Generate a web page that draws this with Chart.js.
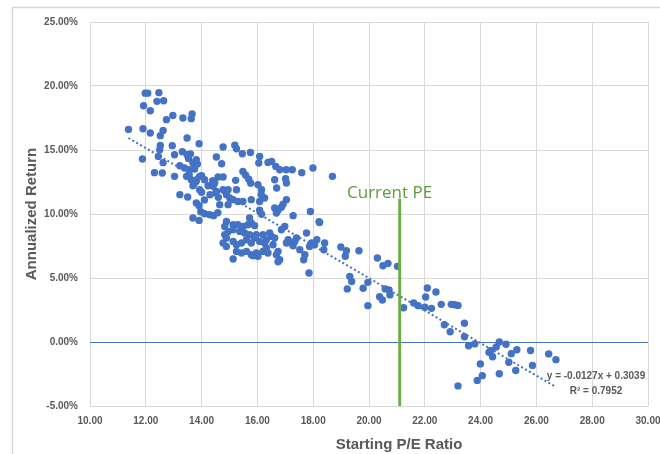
<!DOCTYPE html>
<html>
<head>
<meta charset="utf-8">
<script src="https://cdn.jsdelivr.net/npm/chart.js@4.4.1/dist/chart.umd.min.js"></script>
<style>
  html, body { margin: 0; padding: 0; background: #fff; }
  canvas { display: block; }
</style>
</head>
<body>
<canvas id="pe-chart" width="660" height="454"></canvas>
<script>
// starting P/E and the annualized return that followed (in %)
const peRatios = [
  11.38, 11.88, 11.90, 11.92, 11.98, 12.07, 12.47, 12.40, 12.64, 12.16,
  12.16, 12.31, 12.59, 12.52, 12.62, 12.74, 12.97, 12.45, 12.52, 12.50,
  12.62, 12.95, 13.03, 13.03, 13.22, 13.33, 13.48, 13.66, 13.63, 13.50,
  13.91, 13.31, 13.48, 13.53, 13.81, 13.69, 13.22, 13.39, 13.57, 13.75,
  14.53, 14.72, 13.46, 13.63, 13.69, 13.93, 14.11, 14.23, 14.59, 14.77,
  13.93, 14.41, 14.53, 14.77, 13.81, 13.91, 13.69, 13.97, 14.11, 14.29,
  14.43, 14.58, 13.91, 13.81, 14.51, 14.65, 14.77, 15.19, 15.25, 15.46,
  15.75, 16.08, 16.05, 16.38, 16.51, 16.66, 16.80, 17.03, 17.25, 17.59,
  17.99, 18.69, 16.62, 17.01, 15.22, 15.48, 15.58, 15.69, 15.76, 16.02,
  16.15, 16.14, 16.26, 16.69, 17.04, 17.04, 15.78, 15.25, 14.89, 15.01,
  15.13, 15.30, 15.48, 14.95, 14.95, 16.08, 16.62, 16.74, 16.86, 16.68,
  16.92, 17.28, 17.90, 18.21, 15.72, 16.08, 16.15, 14.47, 14.89, 15.13,
  15.30, 15.48, 15.66, 15.78, 14.83, 15.90, 14.83, 14.95, 14.89, 15.13,
  15.37, 15.54, 15.72, 15.96, 16.20, 16.44, 16.50, 14.77, 14.89, 15.13,
  15.25, 15.43, 15.61, 15.78, 15.90, 16.08, 16.26, 16.32, 16.62, 15.25,
  15.43, 15.61, 15.78, 15.96, 16.20, 16.38, 16.32, 15.13, 15.84, 16.02,
  16.56, 16.74, 16.68, 16.80, 16.74, 16.98, 16.86, 17.10, 17.04, 17.22,
  17.34, 17.40, 17.28, 17.52, 17.70, 17.66, 17.76, 17.87, 18.05, 18.13,
  17.94, 18.41, 18.38, 18.23, 17.85, 18.99, 19.19, 19.15, 19.64, 19.31,
  19.38, 19.22, 19.79, 19.96, 19.96, 20.30, 20.50, 20.68, 21.02, 20.38,
  20.48, 20.58, 20.72, 20.75, 21.24, 21.60, 21.76, 22.00, 22.24, 22.09,
  22.03, 22.40, 22.59, 22.95, 23.07, 23.19, 22.70, 22.91, 23.42, 23.42,
  23.57, 23.79, 23.19, 23.99, 24.06, 23.88, 24.30, 24.43, 24.36, 24.56,
  24.67, 24.91, 24.67, 25.10, 25.01, 25.30, 25.26, 25.79, 25.86, 26.44,
  26.70, 13.55, 13.75, 13.60, 13.85, 14.00, 14.00, 14.30, 14.60, 14.40,
  14.10
];
const annualReturns = [
  16.61, 14.30, 16.66, 18.46, 19.44, 19.44, 19.48, 18.80, 18.85, 18.07,
  16.33, 13.23, 13.20, 16.12, 16.53, 17.37, 17.70, 14.50, 15.36, 15.02,
  14.01, 15.34, 14.63, 12.94, 11.51, 17.50, 15.94, 17.81, 17.45, 11.33,
  15.49, 14.87, 14.63, 14.34, 14.24, 13.98, 13.77, 13.59, 13.46, 13.52,
  14.45, 13.93, 12.94, 12.68, 12.21, 12.94, 12.68, 12.21, 12.89, 12.89,
  11.90, 12.16, 11.77, 11.90, 10.86, 9.50, 9.69, 10.18, 10.02, 9.95,
  9.87, 10.10, 10.65, 12.55, 11.64, 10.73, 15.23, 15.38, 15.10, 14.71,
  14.81, 14.50, 13.98, 14.03, 14.11, 13.72, 13.46, 13.46, 13.46, 13.23,
  13.59, 12.94, 12.68, 12.76, 12.63, 13.33, 13.03, 12.72, 12.41, 12.29,
  11.90, 11.51, 11.25, 12.03, 12.42, 11.12, 11.12, 11.90, 11.51, 11.25,
  11.12, 10.98, 10.98, 11.90, 10.73, 10.98, 10.47, 10.30, 10.53, 10.08,
  10.77, 9.87, 10.20, 9.40, 9.69, 10.30, 9.98, 12.42, 9.42, 9.16,
  9.16, 9.03, 9.16, 9.30, 9.03, 9.09, 8.38, 8.62, 8.13, 8.77,
  8.64, 8.52, 8.38, 8.38, 8.38, 8.52, 8.25, 7.73, 7.47, 7.86,
  7.60, 7.73, 7.99, 7.73, 8.13, 7.86, 7.73, 7.99, 8.13, 7.08,
  6.95, 7.08, 6.82, 6.95, 7.08, 6.95, 7.34, 6.48, 6.74, 6.69,
  7.60, 7.08, 6.82, 6.43, 6.27, 9.03, 8.77, 7.99, 7.73, 7.73,
  7.86, 8.13, 7.52, 7.21, 6.82, 6.43, 8.52, 7.47, 7.60, 7.99,
  7.73, 7.73, 7.21, 9.34, 5.39, 7.42, 7.13, 6.70, 7.13, 5.13,
  4.73, 4.15, 4.20, 4.66, 2.84, 6.56, 5.96, 6.14, 5.91, 3.54,
  3.28, 4.15, 4.06, 3.68, 2.68, 3.05, 2.84, 2.72, 2.63, 4.22,
  3.52, 3.91, 2.94, 2.94, 2.91, 2.86, 1.35, 0.80, 1.47, 0.41,
  -0.29, -0.15, -3.43, -1.71, -2.63, -3.00, -0.81, -1.15, -0.66, -0.39,
  0.00, -0.17, -2.48, -0.91, -1.58, -0.60, -2.23, -0.66, -1.83, -0.93,
  -1.38, 13.10, 12.40, 14.70, 13.90, 13.00, 11.70, 11.50, 11.30, 12.60,
  11.10
];

const xTicks = [10, 12, 14, 16, 18, 20, 22, 24, 26, 28, 30];
const yTicks = [-5, 0, 5, 10, 15, 20, 25];

// linear trendline as printed on the chart
const trendSlope = -0.0127;
const trendIntercept = 0.3039;
const trendRange = [11.38, 26.7];

const currentPe = [21.1, 21.1];
const currentPeReturns = [11.2, -5];

const FONT = "'Liberation Sans', Arial, sans-serif";
const GREY_TEXT = "#595959";
const BLUE = "#4472C4";
const GREEN = "#70AD47";

const scatterPoints = peRatios.map((pe, i) => ({ x: pe, y: annualReturns[i] }));
const trendPoints = trendRange.map((x) => ({ x, y: (trendSlope * x + trendIntercept) * 100 }));
const currentPoints = currentPe.map((x, i) => ({ x, y: currentPeReturns[i] }));

const chartText = {
  id: "chartText",
  beforeDraw(chart) {
    const ctx = chart.ctx;
    ctx.save();
    ctx.strokeStyle = "#D6D6D6";
    ctx.lineWidth = 1.5;
    ctx.beginPath();
    ctx.moveTo(12.5, 460);
    ctx.lineTo(12.5, 7.5);
    ctx.lineTo(670, 7.5);
    ctx.stroke();
    ctx.restore();
  },
  afterDraw(chart) {
    const ctx = chart.ctx;
    ctx.save();
    ctx.fillStyle = GREY_TEXT;
    ctx.textAlign = "center";
    ctx.textBaseline = "middle";

    ctx.font = `bold 15px ${FONT}`;
    ctx.fillText("Starting P/E Ratio", 399, 445);

    ctx.save();
    ctx.translate(32, 214);
    ctx.rotate(-Math.PI / 2);
    ctx.fillText("Annualized Return", 0, 0);
    ctx.restore();

    ctx.font = `bold 10px ${FONT}`;
    ctx.fillText("y = -0.0127x + 0.3039", 596, 376);
    ctx.fillText("R\u00B2 = 0.7952", 596, 391);

    ctx.fillStyle = "#5E9B3E";
    ctx.textAlign = "left";
    ctx.font = `17px 'Open Sans', sans-serif`;
    ctx.fillText("Current PE", 347, 193);
    ctx.restore();
  },
};

new Chart(document.getElementById("pe-chart"), {
  type: "scatter",
  data: {
    datasets: [
      {
        label: "Current PE",
        type: "line",
        data: currentPoints,
        borderColor: GREEN,
        borderWidth: 3,
        pointRadius: 0,
        order: 0,
      },
      {
        label: "Trend",
        type: "line",
        data: trendPoints,
        borderColor: BLUE,
        borderWidth: 2,
        borderDash: [2, 2.5],
        pointRadius: 0,
        order: 1,
      },
      {
        label: "Returns",
        data: scatterPoints,
        backgroundColor: BLUE,
        borderWidth: 0,
        pointRadius: 3.7,
        order: 2,
      },
    ],
  },
  options: {
    responsive: false,
    animation: false,
    layout: { padding: { top: 22, right: 12, bottom: 0, left: 0 } },
    plugins: {
      legend: { display: false },
      tooltip: { enabled: false },
    },
    scales: {
      x: {
        type: "linear",
        min: 10,
        max: 30,
        afterBuildTicks: (scale) => {
          scale.ticks = xTicks.map((value) => ({ value }));
        },
        afterFit: (scale) => {
          scale.height = 48;
          scale.paddingLeft = 0;
          scale.paddingRight = 0;
        },
        ticks: {
          padding: 9,
          color: GREY_TEXT,
          font: { family: FONT, size: 10, weight: "bold" },
          callback: (v) => v.toFixed(2),
        },
        grid: { color: "#D9D9D9", drawTicks: false },
        border: { display: false },
      },
      y: {
        min: -5,
        max: 25,
        afterBuildTicks: (scale) => {
          scale.ticks = yTicks.map((value) => ({ value }));
        },
        afterFit: (scale) => {
          scale.width = 90;
          scale.paddingTop = 0;
          scale.paddingBottom = 0;
        },
        ticks: {
          padding: 12,
          color: GREY_TEXT,
          font: { family: FONT, size: 10, weight: "bold" },
          callback: (v) => v.toFixed(2) + "%",
        },
        grid: {
          color: (c) => (c.tick && c.tick.value === 0 ? BLUE : "#D9D9D9"),
          drawTicks: false,
        },
        border: { display: false },
      },
    },
  },
  plugins: [chartText],
});
</script>
</body>
</html>
